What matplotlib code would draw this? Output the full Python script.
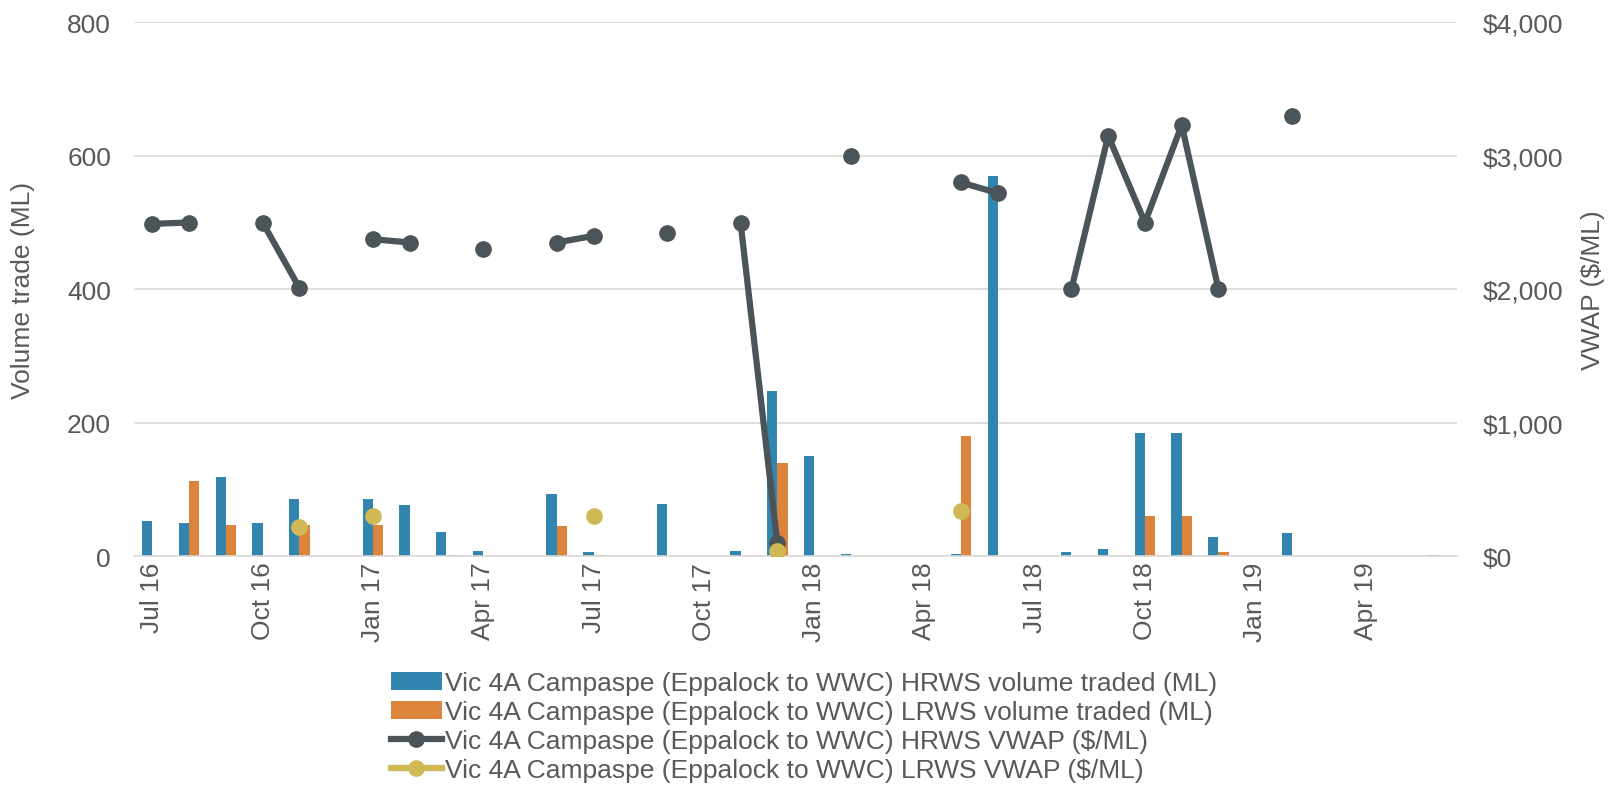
import numpy as np
import matplotlib.pyplot as plt

plt.rcParams['font.family'] = ['Liberation Sans', 'DejaVu Sans']

months = ["Jul 16", "Aug 16", "Sep 16", "Oct 16", "Nov 16", "Dec 16",
          "Jan 17", "Feb 17", "Mar 17", "Apr 17", "May 17", "Jun 17",
          "Jul 17", "Aug 17", "Sep 17", "Oct 17", "Nov 17", "Dec 17",
          "Jan 18", "Feb 18", "Mar 18", "Apr 18", "May 18", "Jun 18",
          "Jul 18", "Aug 18", "Sep 18", "Oct 18", "Nov 18", "Dec 18",
          "Jan 19", "Feb 19", "Mar 19", "Apr 19", "May 19", "Jun 19"]

hrws_vol = [52, 50, 118, 50, 86, 0, 85, 77, 36, 8, 0, 93,
            6, 0, 78, 0, 8, 248, 150, 4, 0, 0, 3, 570,
            0, 6, 10, 184, 184, 29, 0, 34, 0, 0, 0, 2]
lrws_vol = [0, 113, 47, 0, 46, 0, 47, 0, 2, 0, 0, 45,
            2, 0, 0, 0, 0, 139, 0, 0, 0, 0, 180, 0,
            0, 0, 0, 60, 60, 6, 0, 0, 0, 0, 0, 0]

nan = np.nan
hrws_vwap = [2490, 2500, nan, 2500, 2010, nan, 2375, 2350, nan, 2300, nan, 2350,
             2400, nan, 2420, nan, 2500, 100, nan, 3000, nan, nan, 2800, 2720,
             nan, 2000, 3150, 2500, 3230, 2000, nan, 3300, nan, nan, nan, nan]
lrws_vwap = [nan, nan, nan, nan, 220, nan, 300, nan, nan, nan, nan, nan,
             300, nan, nan, nan, nan, 40, nan, nan, nan, nan, 340, nan,
             nan, nan, nan, nan, nan, nan, nan, nan, nan, nan, nan, nan]

label_names = ["Vic 4A Campaspe (Eppalock to WWC) HRWS volume traded (ML)",
               "Vic 4A Campaspe (Eppalock to WWC) LRWS volume traded (ML)",
               "Vic 4A Campaspe (Eppalock to WWC) HRWS VWAP ($/ML)",
               "Vic 4A Campaspe (Eppalock to WWC) LRWS VWAP ($/ML)"]

txt = '#595959'
fs = 19
fig = plt.figure(figsize=(16.14, 8.04), dpi=100)
ax = fig.add_axes([0.083, 0.307, 0.82, 0.664])
ax2 = ax.twinx()

x = np.arange(len(months))
w = 0.28
b1 = ax.bar(x - w / 2, hrws_vol, w, color='#3285AF', label=label_names[0])
b2 = ax.bar(x + w / 2, lrws_vol, w, color='#DC843C', label=label_names[1])

l1, = ax2.plot(x, hrws_vwap, color='#4B5459', lw=4.5, marker='o', ms=11, label=label_names[2])
l2, = ax2.plot(x, lrws_vwap, color='#CFB954', lw=4.5, marker='o', ms=11, label=label_names[3])

ax.set_xlim(-0.5, len(months) - 0.5)
ax.set_ylim(0, 800)
ax.set_yticks([0, 200, 400, 600, 800])
ax2.set_ylim(0, 4000)
ax2.set_yticks([0, 1000, 2000, 3000, 4000])
ax2.set_yticklabels(['$0', '$1,000', '$2,000', '$3,000', '$4,000'])

ax.set_xticks(x[::3])
ax.set_xticklabels(months[::3], rotation=90)
ax.grid(axis='y', color='#D9D9D9', lw=1.2)
ax.set_axisbelow(True)

for a in (ax, ax2):
    for s in a.spines.values():
        s.set_visible(False)
    a.tick_params(length=0, labelsize=fs, colors=txt)
ax.tick_params(axis='y', pad=16.5)
ax2.tick_params(axis='y', pad=18)
ax.tick_params(axis='x', pad=4)
ax.spines['bottom'].set_visible(True)
ax.spines['bottom'].set_color('#D9D9D9')
ax.spines['bottom'].set_linewidth(1.2)

ax.set_ylabel("Volume trade (ML)", fontsize=fs, color=txt)
ax2.set_ylabel("VWAP ($/ML)", fontsize=fs, color=txt)
ax.yaxis.set_label_coords(-0.0748, 0.5)
ax2.yaxis.set_label_coords(1.093, 0.5)

fig.legend([b1, b2, l1, l2], label_names, loc='upper center', bbox_to_anchor=(0.498, 0.177),
           ncol=1, frameon=False, fontsize=19, labelcolor=txt, handlelength=1.95,
           handletextpad=0.1, labelspacing=0.19, borderaxespad=0)

fig.savefig('out.png', dpi=100)
